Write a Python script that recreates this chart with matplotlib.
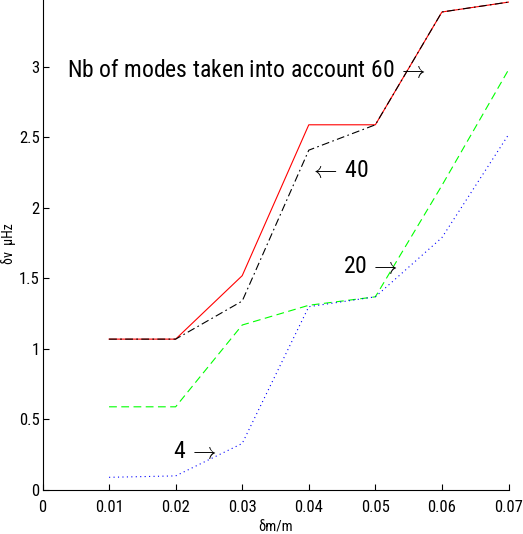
import matplotlib
matplotlib.use("Agg")
from matplotlib import pyplot as plt

# DATA
dm = [0.01, 0.02, 0.03, 0.04, 0.05, 0.06, 0.07]
modes_60 = [1.07, 1.07, 1.52, 2.59, 2.59, 3.39, 3.46]
modes_40 = [1.07, 1.07, 1.34, 2.41, 2.59, 3.39, 3.46]
modes_20 = [0.59, 0.59, 1.17, 1.31, 1.37, 2.16, 2.98]
modes_4 = [0.09, 0.10, 0.33, 1.30, 1.37, 1.79, 2.52]
x_ticks = [0, 0.01, 0.02, 0.03, 0.04, 0.05, 0.06, 0.07]
x_labels = ["0", "0.01", "0.02", "0.03", "0.04", "0.05", "0.06", "0.07"]
y_ticks = [0, 0.5, 1, 1.5, 2, 2.5, 3]
y_labels = ["0", "0.5", "1", "1.5", "2", "2.5", "3"]

# narrow helvetica look, TeX style arrows
plt.rcParams['font.family'] = ['Roboto Condensed', 'Liberation Sans', 'DejaVu Sans']
plt.rcParams['mathtext.fontset'] = 'cm'

fig = plt.figure(figsize=(5.23, 5.34), dpi=100)
ax = fig.add_axes([42.5 / 523, 44 / 534, 466 / 523, 490 / 534])

ax.plot(dm, modes_60, color=(1, 0, 0), lw=0.8, ls='-')
ax.plot(dm, modes_40, color='black', lw=0.8, ls=(0, (7, 3, 1.5, 3)))
ax.plot(dm, modes_20, color=(0, 1, 0), lw=0.8, ls=(0, (7, 4)))
ax.plot(dm, modes_4, color=(0, 0, 1), lw=0.8, ls=(0, (1, 3)))

ax.set_xlim(0, 0.07)
ax.set_ylim(0, 3.475)
ax.set_xticks(x_ticks)
ax.set_xticklabels(x_labels)
ax.set_yticks(y_ticks)
ax.set_yticklabels(y_labels)
ax.tick_params(direction='in', length=4.5, width=0.8, labelsize=12)
ax.tick_params(axis='x', pad=7.5)
ax.tick_params(axis='y', pad=2)
ax.spines['top'].set_visible(False)
ax.spines['right'].set_visible(False)

ax.set_xlabel("δm/m", fontsize=10.5, labelpad=3.5)
ax.set_ylabel("δν  μHz", fontsize=10)
ax.yaxis.set_label_coords(-0.056, 0.502)

# annotations (baselines)
ax.text(0.00368, 2.93, r"Nb of modes taken into account 60$\,\rightarrow$", fontsize=17, va='baseline', ha='left')
ax.text(0.0401, 2.22, r"$\leftarrow\,$40", fontsize=17, va='baseline', ha='left')
ax.text(0.0451, 1.537, r"20$\,\rightarrow$", fontsize=17, va='baseline', ha='left')
ax.text(0.01965, 0.225, r"4$\,\rightarrow$", fontsize=17, va='baseline', ha='left')

fig.savefig("out.png", dpi=100)
